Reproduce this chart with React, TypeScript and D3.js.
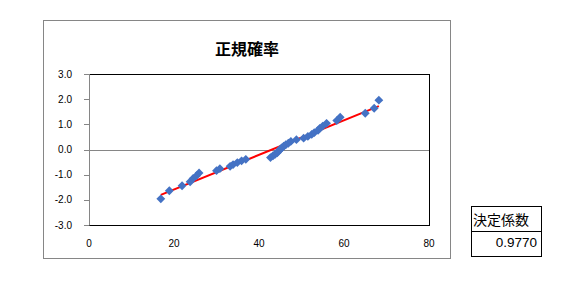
import React from 'react';
import * as d3 from 'd3';

// Observed values (x) sorted, and their normal scores (z)
const xValues = [
  16.9, 18.9, 21.9, 23.8, 24.5, 25.3, 25.9, 30.0, 30.8, 33.2, 33.9, 34.9, 35.9, 36.9,
  42.7, 43.3, 43.8, 44.3, 44.6, 45.0, 45.3, 45.8, 46.3, 46.9, 47.5, 48.8, 50.5, 51.5,
  52.4, 53.0, 53.9, 54.3, 55.0, 55.9, 58.3, 59.1, 65.0, 67.1, 68.2,
];
const zValues = [
  -1.96, -1.64, -1.44, -1.28, -1.15, -1.04, -0.93, -0.84, -0.76, -0.67, -0.60, -0.52, -0.45, -0.39,
  -0.32, -0.25, -0.19, -0.13, -0.06, 0.0, 0.06, 0.13, 0.19, 0.25, 0.32, 0.39, 0.45, 0.52,
  0.60, 0.67, 0.76, 0.84, 0.93, 1.04, 1.15, 1.28, 1.44, 1.64, 1.96,
];
const xTicks = [0, 20, 40, 60, 80];
const yTicks = [-3, -2, -1, 0, 1, 2, 3];
const title = '正規確率';
const tableHeader = '決定係数';
const rSquaredText = '0.9770';

export default function App() {
  const plot = { left: 89, right: 429, top: 74, bottom: 225 };
  const x = d3.scaleLinear().domain([0, 80]).range([plot.left, plot.right]);
  const y = d3.scaleLinear().domain([-3, 3]).range([plot.bottom, plot.top]);

  const pts = xValues.map((v, i) => [v, zValues[i]] as [number, number]);
  const mx = d3.mean(xValues)!;
  const mz = d3.mean(zValues)!;
  let sxy = 0, sxx = 0;
  pts.forEach(([a, b]) => { sxy += (a - mx) * (b - mz); sxx += (a - mx) * (a - mx); });
  const slope = sxy / sxx;
  const icpt = mz - slope * mx;
  const [xmin, xmax] = d3.extent(xValues) as [number, number];
  const line = d3.line<[number, number]>().x(d => x(d[0])).y(d => y(d[1]));
  const trend = line([[xmin, icpt + slope * xmin], [xmax, icpt + slope * xmax]]) || '';
  const diamond = d3.symbol().type(d3.symbolDiamond2).size(50)() || '';

  const gray = '#868686';
  const tickFont = 'Arial, "Liberation Sans", sans-serif';
  const cjk = '"Noto Sans CJK JP", sans-serif';

  return (
    <svg width={568} height={306} style={{ position: 'absolute', left: 0, top: 0 }}>
      <rect x={0} y={0} width={568} height={306} fill="#fff" />
      <rect x={43.5} y={20.5} width={407} height={238} fill="#fff" stroke={gray} />
      <text x={247} y={55} textAnchor="middle" fontFamily={cjk} fontWeight="bold" fontSize={16} fill="#000">{title}</text>

      {/* plot area border */}
      <rect x={plot.left + 0.5} y={plot.top + 0.5} width={plot.right - plot.left} height={plot.bottom - plot.top} fill="none" stroke="#000" />
      {/* y axis */}
      <line x1={plot.left + 0.5} x2={plot.left + 0.5} y1={y(3)} y2={y(-3) + 0.5} stroke={gray} />
      {yTicks.map(t => (
        <g key={t}>
          <line x1={plot.left - 5} x2={plot.left} y1={Math.round(y(t)) + 0.5} y2={Math.round(y(t)) + 0.5} stroke={gray} />
          <text x={72} y={y(t) + 3.5} textAnchor="end" fontFamily={tickFont} fontSize={10} fill="#000">{t.toFixed(1)}</text>
        </g>
      ))}
      {/* horizontal axis at zero */}
      <line x1={plot.left} x2={plot.right} y1={Math.round(y(0)) + 0.5} y2={Math.round(y(0)) + 0.5} stroke={gray} />
      {xTicks.map(t => (
        <text key={t} x={x(t)} y={246.5} textAnchor="middle" fontFamily={tickFont} fontSize={10} fill="#000">{t}</text>
      ))}

      <path d={trend} stroke="#ff0000" strokeWidth={2} fill="none" />
      {pts.map((d, i) => (
        <path key={i} d={diamond} transform={`translate(${x(d[0])},${y(d[1])})`} fill="#4472c4" />
      ))}

      {/* R² table */}
      <rect x={471.5} y={206.5} width={70} height={50} fill="#fff" stroke="#000" />
      <line x1={471.5} x2={541.5} y1={231.5} y2={231.5} stroke="#000" />
      <text x={473} y={225} fontFamily={cjk} fontSize={14} fill="#000">{tableHeader}</text>
      <text x={537} y={247} textAnchor="end" fontFamily={tickFont} fontSize={13.5} fill="#000">{rSquaredText}</text>
    </svg>
  );
}
